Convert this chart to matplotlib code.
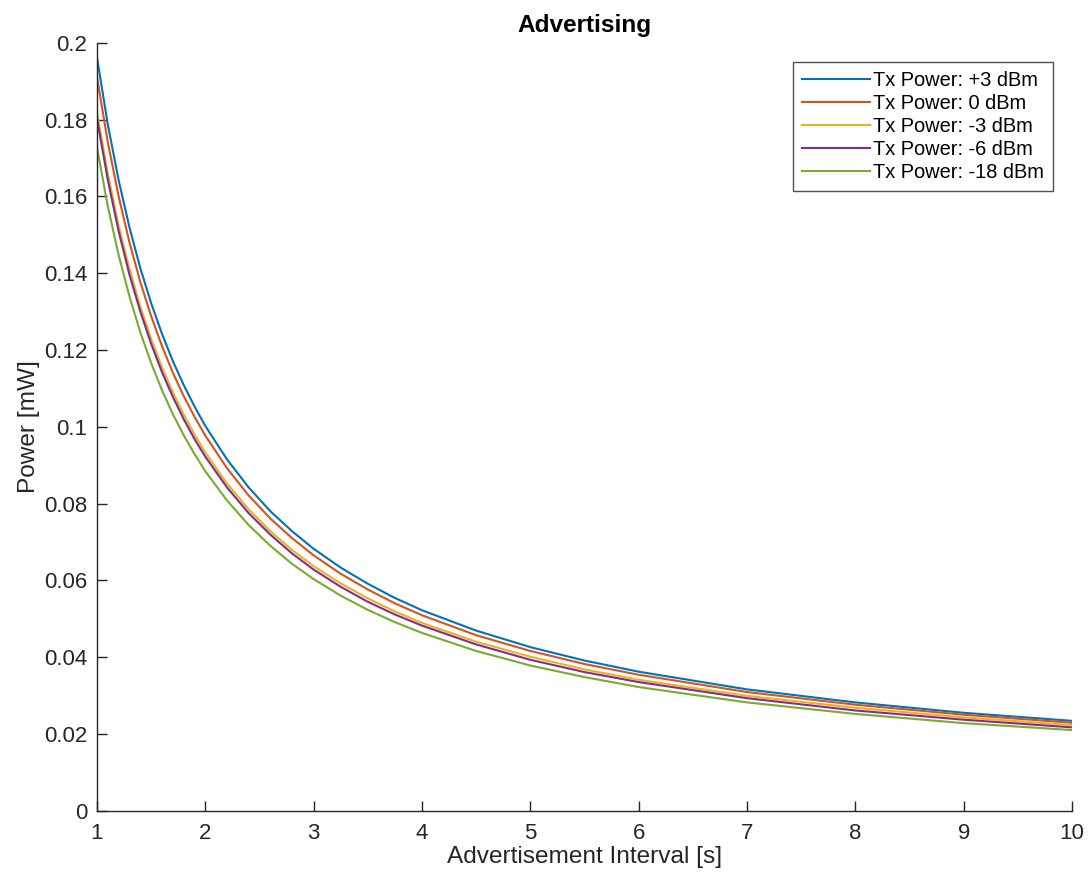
import matplotlib.pyplot as plt
from matplotlib.ticker import FuncFormatter

plt.rcParams['font.family'] = ['Liberation Sans', 'DejaVu Sans']

# advertisement interval [s]
interval = [1, 1.1, 1.2, 1.3, 1.4, 1.5, 1.6, 1.7, 1.8, 1.9, 2, 2.2, 2.4, 2.6,
            2.8, 3, 3.25, 3.5, 3.75, 4, 4.5, 5, 5.5, 6, 7, 8, 9, 10]

# power [mW]
p_plus3 = [0.1962, 0.1787, 0.1642, 0.1519, 0.1413, 0.1322, 0.1242, 0.1171,
           0.1109, 0.1053, 0.1002, 0.0915, 0.0842, 0.0780, 0.0728, 0.0682,
           0.0633, 0.0591, 0.0554, 0.0522, 0.0469, 0.0426, 0.0391, 0.0362,
           0.0316, 0.0282, 0.0255, 0.0234]
p_0 = [0.1911, 0.1741, 0.1600, 0.1480, 0.1377, 0.1288, 0.1210, 0.1141,
       0.1080, 0.1026, 0.0977, 0.0892, 0.0821, 0.0761, 0.0710, 0.0665,
       0.0617, 0.0576, 0.0540, 0.0509, 0.0457, 0.0416, 0.0382, 0.0354,
       0.0309, 0.0276, 0.0250, 0.0229]
p_minus3 = [0.1820, 0.1659, 0.1524, 0.1411, 0.1313, 0.1229, 0.1155, 0.1090,
            0.1032, 0.0980, 0.0933, 0.0852, 0.0785, 0.0728, 0.0679, 0.0637,
            0.0592, 0.0553, 0.0519, 0.0489, 0.0440, 0.0401, 0.0368, 0.0341,
            0.0299, 0.0268, 0.0243, 0.0223]
p_minus6 = [0.1803, 0.1643, 0.1509, 0.1396, 0.1300, 0.1216, 0.1142, 0.1078,
            0.1020, 0.0968, 0.0922, 0.0842, 0.0775, 0.0719, 0.0670, 0.0628,
            0.0583, 0.0544, 0.0511, 0.0482, 0.0433, 0.0393, 0.0361, 0.0335,
            0.0293, 0.0261, 0.0237, 0.0217]
p_minus18 = [0.1728, 0.1574, 0.1447, 0.1339, 0.1246, 0.1166, 0.1095, 0.1033,
             0.0978, 0.0929, 0.0884, 0.0808, 0.0744, 0.0690, 0.0643, 0.0603,
             0.0560, 0.0523, 0.0491, 0.0463, 0.0416, 0.0378, 0.0348, 0.0322,
             0.0282, 0.0252, 0.0228, 0.0210]

series = [p_plus3, p_0, p_minus3, p_minus6, p_minus18]
labels = ['Tx Power: +3 dBm', 'Tx Power: 0 dBm', 'Tx Power: -3 dBm',
          'Tx Power: -6 dBm', 'Tx Power: -18 dBm']
colors = ['#0072BD', '#D95319', '#EDB120', '#7E2F8E', '#77AC30']

fig = plt.figure(figsize=(10.92, 8.72), dpi=100)
ax = fig.add_axes([0.0888, 0.0703, 0.8929, 0.8807])

for ys, lab, c in zip(series, labels, colors):
    ax.plot(interval, ys, color=c, lw=1.5, label=lab)

ax.set_xlim(1, 10)
ax.set_ylim(0, 0.2)
ax.set_xticks(range(1, 11))
ax.set_yticks([i * 0.02 for i in range(11)])
ax.yaxis.set_major_formatter(FuncFormatter(lambda v, p: '%g' % round(v, 2)))

for s in ['top', 'right']:
    ax.spines[s].set_visible(False)
for s in ['left', 'bottom']:
    ax.spines[s].set_color('#262626')
    ax.spines[s].set_linewidth(1.0)
ax.tick_params(direction='in', length=7, width=1.0, colors='#262626',
               labelsize=16, pad=7)
ax.tick_params(axis='x', pad=9)

ax.set_xlabel('Advertisement Interval [s]', fontsize=17.6, color='#262626', labelpad=1)
ax.set_ylabel('Power [mW]', fontsize=17.6, color='#262626', labelpad=3)
ax.set_title('Advertising', fontsize=17.6, fontweight='bold', pad=8)

leg = ax.legend(loc='upper right', bbox_to_anchor=(0.9805, 0.9753), fontsize=14.4,
                frameon=True, fancybox=False, edgecolor='#262626',
                handlelength=3.4, handletextpad=0.15, labelspacing=0.2,
                borderpad=0.45, borderaxespad=0)
leg.get_frame().set_linewidth(1.0)

fig.savefig('out.png', dpi=100)
